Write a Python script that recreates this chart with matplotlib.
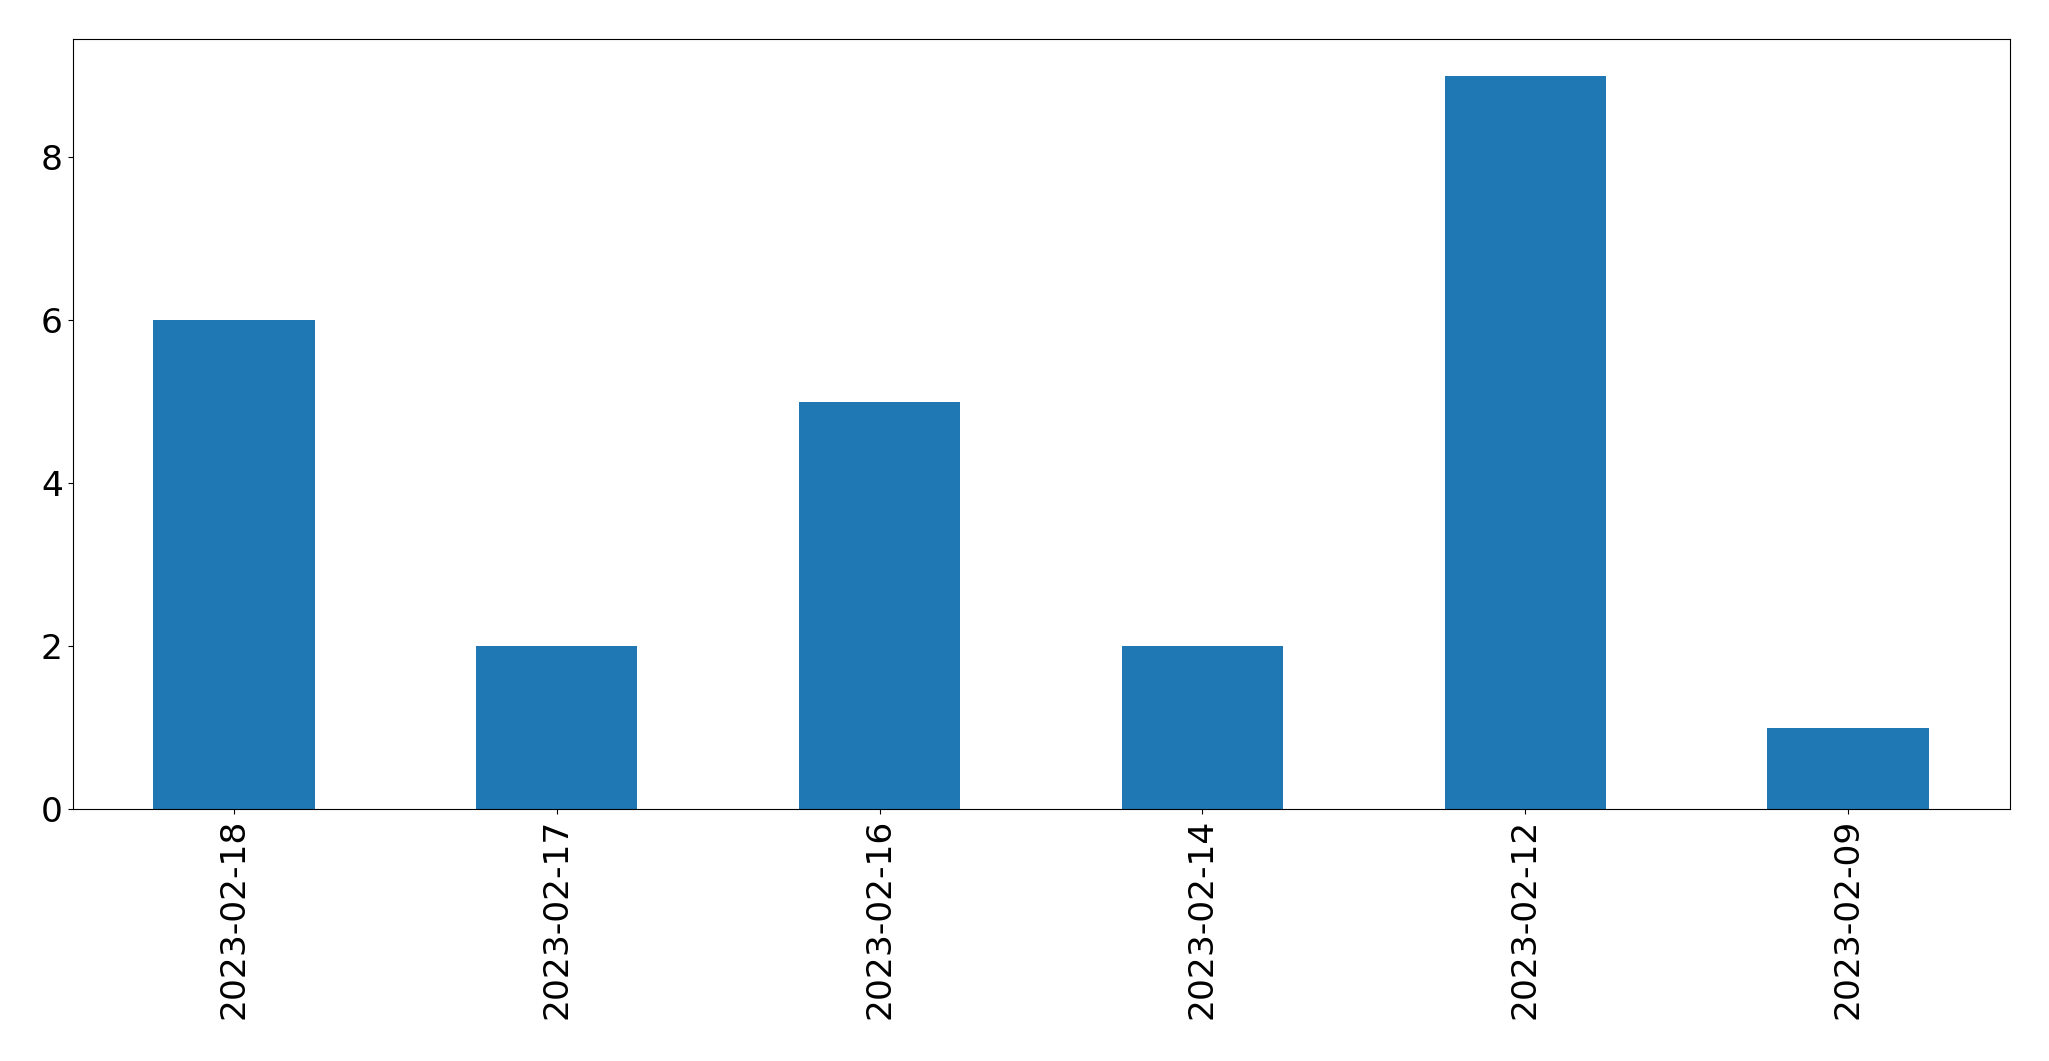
import matplotlib
matplotlib.use("Agg")
import matplotlib.pyplot as plt

dates = ["2023-02-18", "2023-02-17", "2023-02-16", "2023-02-14", "2023-02-12", "2023-02-09"]
counts = [6, 2, 5, 2, 9, 1]

fig = plt.figure(figsize=(20.49, 10.61), dpi=100)
ax = fig.add_axes([72.5/2049, 1 - 809/1061, (2009.5-72.5)/2049, (809-39)/1061])
x = range(len(dates))
ax.bar(x, counts, width=0.5, color="#1f77b4")
ax.set_xlim(-0.5, len(dates) - 0.5)
ax.set_ylim(0, 9.45)
ax.set_xticks(list(x))
ax.set_xticklabels(dates, rotation=90)
ax.set_yticks([0, 2, 4, 6, 8])
ax.tick_params(labelsize=24.8)
fig.savefig("out.png", dpi=100)
